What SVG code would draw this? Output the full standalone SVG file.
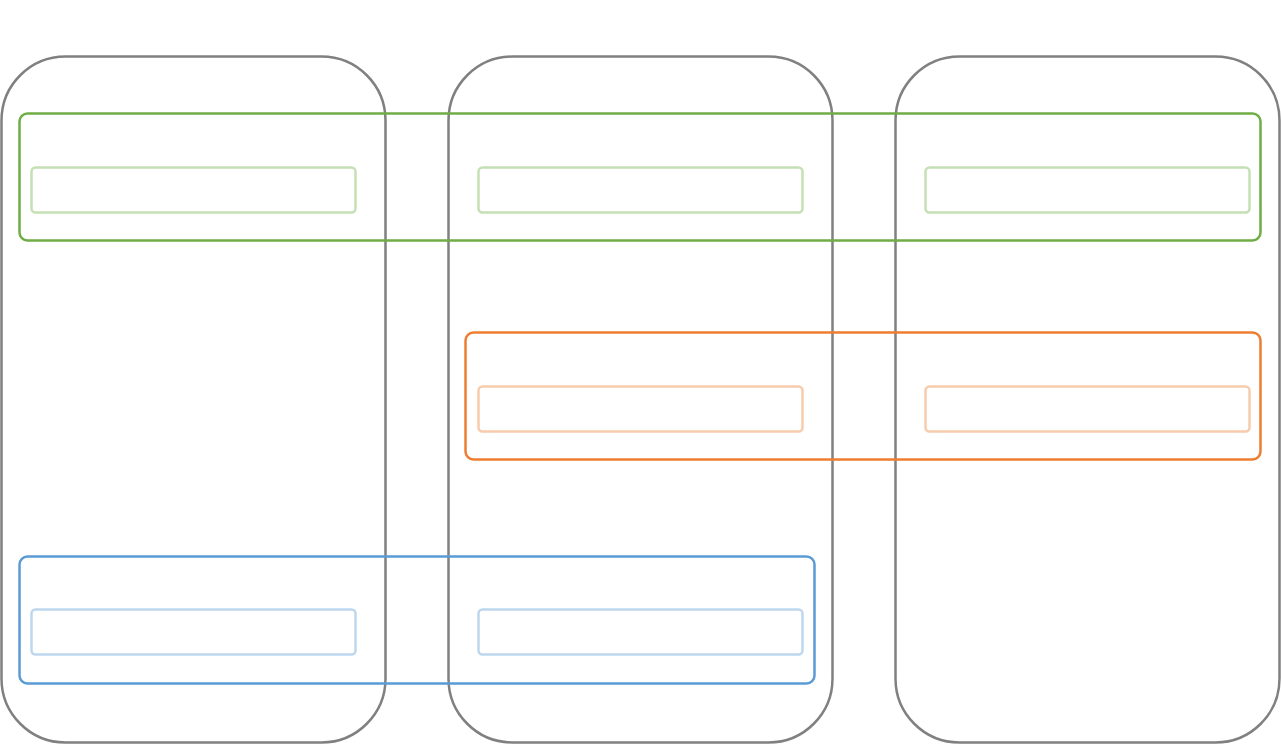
<svg xmlns="http://www.w3.org/2000/svg" width="1281" height="745" viewBox="0 0 1281 745">
<style>
.col{fill:none;stroke:#808080;stroke-width:2.5}
.band{fill:none;stroke-width:2.5}
.item{fill:none;stroke-width:2.5}
.g{stroke:#70ad47}.gi{stroke:#c5e0b4}
.o{stroke:#ed7d31}.oi{stroke:#f8cbad}
.b{stroke:#5b9bd5}.bi{stroke:#bdd7ee}
</style>
<rect width="1281" height="745" fill="#ffffff"/>
<g id="col1"><rect class="col" x="1.5" y="56.5" width="384" height="686" rx="64"/></g>
<g id="col2"><rect class="col" x="448.5" y="56.5" width="384" height="686" rx="64"/></g>
<g id="col3"><rect class="col" x="895.5" y="56.5" width="384" height="686" rx="64"/></g>
<g id="band-green"><rect class="band g" x="19.5" y="113.5" width="1241" height="127" rx="8"/></g>
<g id="green-1"><rect class="item gi" x="31.5" y="167.5" width="324" height="45" rx="4"/></g>
<g id="green-2"><rect class="item gi" x="478.5" y="167.5" width="324" height="45" rx="4"/></g>
<g id="green-3"><rect class="item gi" x="925.5" y="167.5" width="324" height="45" rx="4"/></g>
<g id="band-orange"><rect class="band o" x="465.5" y="332.5" width="795" height="127" rx="8"/></g>
<g id="orange-2"><rect class="item oi" x="478.5" y="386.5" width="324" height="45" rx="4"/></g>
<g id="orange-3"><rect class="item oi" x="925.5" y="386.5" width="324" height="45" rx="4"/></g>
<g id="band-blue"><rect class="band b" x="19.5" y="556.5" width="795" height="127" rx="8"/></g>
<g id="blue-1"><rect class="item bi" x="31.5" y="609.5" width="324" height="45" rx="4"/></g>
<g id="blue-2"><rect class="item bi" x="478.5" y="609.5" width="324" height="45" rx="4"/></g>
<g id="connectors"></g>
</svg>
